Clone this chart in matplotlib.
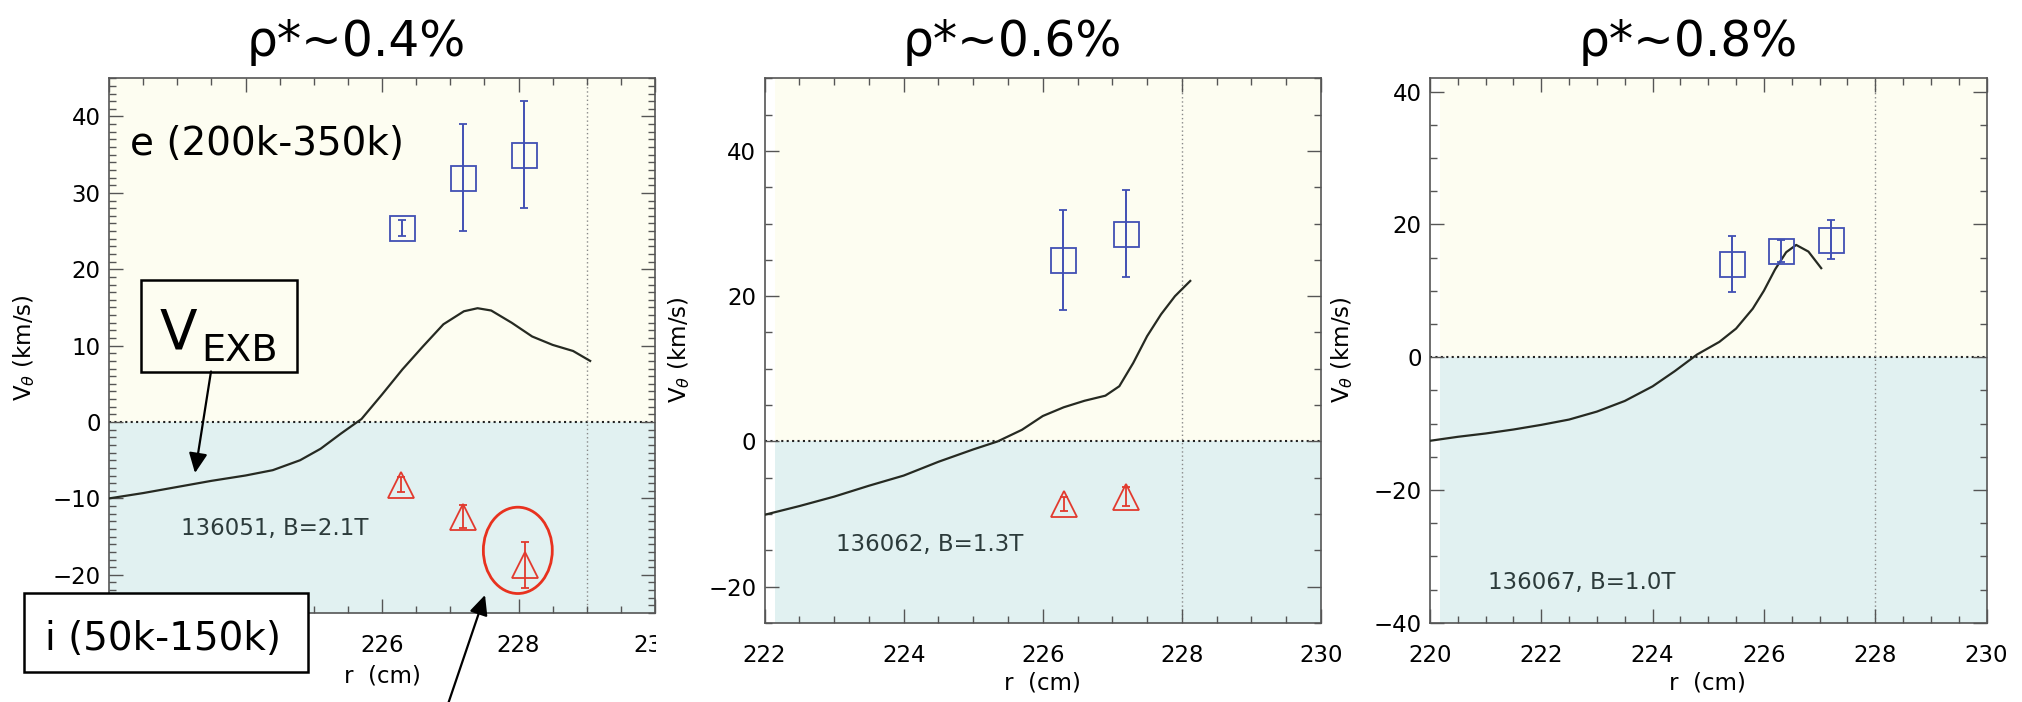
import matplotlib
matplotlib.use('Agg')
import matplotlib.pyplot as plt
from matplotlib.ticker import MultipleLocator, FuncFormatter
from matplotlib.patches import Rectangle, Ellipse, FancyArrowPatch

W, H = 2022, 702
plt.rcParams['font.family'] = ['DejaVu Sans']

# ---------------- data ----------------
titles = ['ρ*~0.4%', 'ρ*~0.6%', 'ρ*~0.8%']
shot_labels = ['136051, B=2.1T', '136062, B=1.3T', '136067, B=1.0T']

# V_ExB profiles
r_exb_1 = [222.0, 222.5, 223.0, 223.5, 224.0, 224.4, 224.8, 225.1, 225.4, 225.7, 226.0,
           226.3, 226.6, 226.9, 227.2, 227.4, 227.6, 227.9, 228.2, 228.5, 228.8, 229.05]
v_exb_1 = [-10.0, -9.3, -8.5, -7.7, -7.0, -6.3, -5.0, -3.5, -1.5, 0.4, 3.6,
           6.9, 9.9, 12.8, 14.5, 14.9, 14.6, 13.0, 11.2, 10.1, 9.3, 8.0]

r_exb_2 = [222.0, 222.5, 223.0, 223.5, 224.0, 224.5, 225.0, 225.35, 225.7, 226.0, 226.3,
           226.6, 226.9, 227.1, 227.3, 227.5, 227.7, 227.9, 228.12]
v_exb_2 = [-10.1, -8.9, -7.6, -6.1, -4.7, -2.8, -1.1, 0.0, 1.6, 3.5, 4.7,
           5.6, 6.3, 7.6, 10.8, 14.5, 17.5, 20.0, 22.1]

r_exb_3 = [220.0, 220.5, 221.0, 221.5, 222.0, 222.5, 223.0, 223.5, 224.0, 224.4, 224.8,
           225.2, 225.5, 225.8, 226.0, 226.2, 226.4, 226.58, 226.8, 227.03]
v_exb_3 = [-12.6, -12.0, -11.5, -10.9, -10.2, -9.4, -8.2, -6.6, -4.4, -2.1, 0.4,
           2.3, 4.3, 7.3, 10.0, 13.2, 15.8, 16.9, 15.9, 13.4]

# electron-direction (blue squares)
r_e_1 = [226.29, 227.19, 228.08]
v_e_1 = [25.4, 32.0, 35.0]
err_e_1 = [1.0, 7.0, 7.0]
r_e_2 = [226.29, 227.19]
v_e_2 = [25.0, 28.6]
err_e_2 = [6.9, 6.0]
r_e_3 = [225.42, 226.31, 227.21]
v_e_3 = [14.0, 16.0, 17.7]
err_e_3 = [4.2, 1.7, 2.9]

# ion-direction (red triangles)
r_i_1 = [226.28, 227.19, 228.1]
v_i_1 = [-8.2, -12.4, -18.7]
err_i_1 = [1.0, 1.5, 3.0]
r_i_2 = [226.3, 227.19]
v_i_2 = [-8.6, -7.6]
err_i_2 = [1.0, 1.3]

# ---------------- styling ----------------
BLUE = '#4150b4'
RED = '#e23a2e'
CREAM = '#fdfdf1'
CYAN = '#e1f1f1'
SPINE = '#555555'
TXT = '#2c3b3b'


def ax_rect(l, r, t, b):
    return [l / W, 1 - b / H, (r - l) / W, (b - t) / H]


def fx(x):
    return x / W


def fy(y):
    return 1 - y / H


fig = plt.figure(figsize=(W / 100, H / 100), dpi=100)

panels = [
    dict(rect=ax_rect(109, 655, 78.3, 613), xlim=(222, 230), ylim=(-25, 45),
         ymaj=10, ymin=1, fill_x=222.0, vline=229.0, hide_below=225,
         exb=(r_exb_1, v_exb_1), e=(r_e_1, v_e_1, err_e_1), i=(r_i_1, v_i_1, err_i_1),
         shot_xy=(181, 529)),
    dict(rect=ax_rect(764.6, 1321, 78.3, 623), xlim=(222, 230), ylim=(-25, 50),
         ymaj=20, ymin=5, fill_x=222.15, vline=228.0, hide_below=None,
         exb=(r_exb_2, v_exb_2), e=(r_e_2, v_e_2, err_e_2), i=(r_i_2, v_i_2, err_i_2),
         shot_xy=(836, 544)),
    dict(rect=ax_rect(1430, 1986.5, 78.3, 622.7), xlim=(220, 230), ylim=(-40, 42),
         ymaj=20, ymin=5, fill_x=220.18, vline=228.0, hide_below=None,
         exb=(r_exb_3, v_exb_3), e=(r_e_3, v_e_3, err_e_3), i=None,
         shot_xy=(1488, 582)),
]

axes = []
for k, p in enumerate(panels):
    ax = fig.add_axes(p['rect'])
    axes.append(ax)
    ax.set_xlim(*p['xlim'])
    ax.set_ylim(*p['ylim'])
    x0, x1 = p['xlim']
    frac = (p['fill_x'] - x0) / (x1 - x0)
    ax.axhspan(0, p['ylim'][1], xmin=frac, xmax=1, color=CREAM, lw=0, zorder=0)
    ax.axhspan(p['ylim'][0], 0, xmin=frac, xmax=1, color=CYAN, lw=0, zorder=0)
    ax.set_facecolor('white')
    ax.axhline(0, color='#222222', ls=(0, (1, 1.6)), lw=1.5, zorder=1)
    ax.axvline(p['vline'], color='#888888', ls=(0, (1, 2)), lw=1.0, zorder=1)

    rx, vx = p['exb']
    ax.plot(rx, vx, color='#262a22', lw=1.6, zorder=3)

    re, ve, ee = p['e']
    ax.errorbar(re, ve, yerr=ee, fmt='s', ms=18, mfc='none', mec=BLUE, mew=1.3,
                ecolor=BLUE, elinewidth=1.4, capsize=3, capthick=1.4, zorder=4)
    if p['i'] is not None:
        ri, vi, ei = p['i']
        ax.errorbar(ri, vi, yerr=ei, fmt='^', ms=19, mfc='none', mec=RED, mew=1.3,
                    ecolor=RED, elinewidth=1.3, capsize=3, capthick=1.3, zorder=4)

    ax.xaxis.set_major_locator(MultipleLocator(2))
    ax.xaxis.set_minor_locator(MultipleLocator(0.5))
    ax.yaxis.set_major_locator(MultipleLocator(p['ymaj']))
    ax.yaxis.set_minor_locator(MultipleLocator(p['ymin']))
    if p['hide_below'] is not None:
        hb = p['hide_below']
        ax.xaxis.set_major_formatter(FuncFormatter(
            lambda v, pos, hb=hb: '' if v < hb else f'{v:.0f}'))
    ax.tick_params(which='both', direction='in', top=True, right=True, color=SPINE)
    ax.tick_params(which='major', length=10, width=1.0)
    ax.tick_params(which='minor', length=5, width=1.0)
    ax.tick_params(axis='x', which='major', labelsize=16.5, pad=15)
    ax.tick_params(axis='y', which='major', labelsize=16.5, pad=6)
    for s in ax.spines.values():
        s.set_color(SPINE)
        s.set_linewidth(1.2)

    fig.text(fx(p['shot_xy'][0]), fy(p['shot_xy'][1]), shot_labels[k], fontsize=16.5,
             color=TXT, ha='left', va='center')

# titles
for tx, t in zip([356, 1012, 1688], titles):
    fig.text(fx(tx), fy(56), t, fontsize=35, ha='center', va='baseline', color='black')

# axis labels
for lx, ly in [(24, 348), (679, 350), (1342, 350)]:
    fig.text(fx(lx), fy(ly), r'V$_\theta$ (km/s)', fontsize=16.5, rotation=90,
             ha='center', va='center', color='black')
for lx, ly in [(382, 676), (1042, 683), (1707, 683)]:
    fig.text(fx(lx), fy(ly), 'r  (cm)', fontsize=16.5, ha='center', va='center')

# panel-1 annotations
ax1 = axes[0]
fig.text(fx(130), fy(155), 'e (200k-350k)', fontsize=28, ha='left', va='baseline')
ax1.add_patch(Ellipse((227.99, -16.8), 1.01, 11.3, fill=False, ec='#e8321f', lw=2.0, zorder=5))

# cover clipped "230" on panel 1
fig.add_artist(Rectangle((fx(656), fy(668)), (690 - 656) / W, (668 - 625) / H,
                         transform=fig.transFigure, fc='white', ec='none', zorder=6))

# V_ExB box
fig.add_artist(Rectangle((fx(141), fy(371.5)), (297 - 141) / W, (371.5 - 279.8) / H,
                         transform=fig.transFigure, fc='none', ec='black', lw=1.8, zorder=7))
fig.text(fx(160), fy(349), 'V', fontsize=39.5, ha='left', va='baseline', zorder=8)
fig.text(fx(201), fy(361.5), 'EXB', fontsize=27.5, ha='left', va='baseline', zorder=8)
fig.add_artist(FancyArrowPatch((fx(211), fy(371.5)), (fx(195), fy(473)),
                               transform=fig.transFigure,
                               arrowstyle='-|>,head_length=0.6,head_width=0.28',
                               mutation_scale=20, color='black', lw=1.6,
                               shrinkA=0, shrinkB=0, zorder=8))

# i box
fig.add_artist(Rectangle((fx(24), fy(672)), (308 - 24) / W, (672 - 593) / H,
                         transform=fig.transFigure, fc='white', ec='black', lw=1.8, zorder=7))
fig.text(fx(45), fy(650), 'i (50k-150k)', fontsize=28, ha='left', va='baseline', zorder=8)
fig.add_artist(FancyArrowPatch((fx(446), fy(710)), (fx(485), fy(595)),
                               transform=fig.transFigure,
                               arrowstyle='-|>,head_length=0.6,head_width=0.28',
                               mutation_scale=20, color='black', lw=1.6,
                               shrinkA=0, shrinkB=0, zorder=8))

fig.savefig('out.png', dpi=100)
